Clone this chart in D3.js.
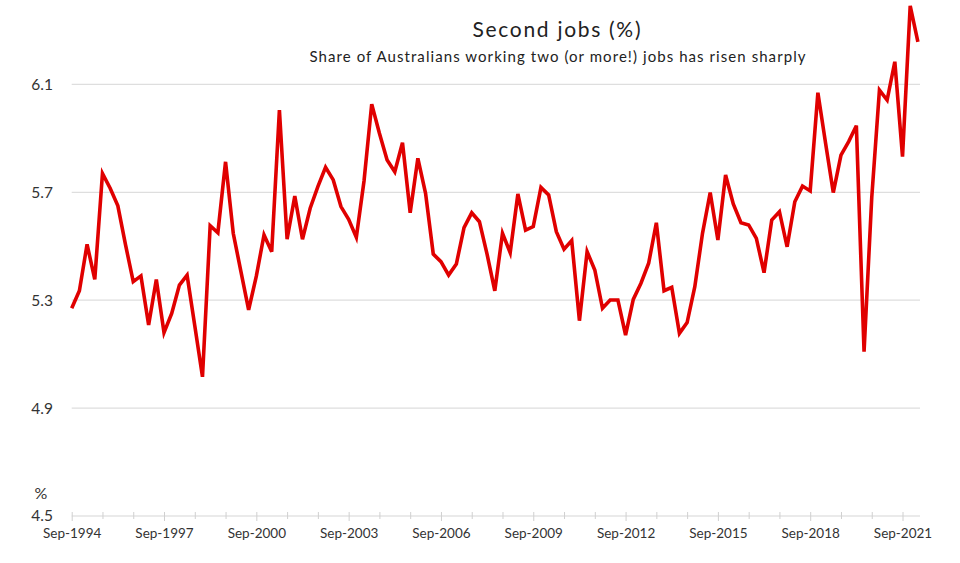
<!DOCTYPE html>
<html>
<head>
<meta charset="utf-8">
<script src="https://cdn.jsdelivr.net/npm/d3@7"></script>
<style>
  html, body { margin: 0; padding: 0; background: #fff; }
  svg { display: block; font-family: Lato, "Open Sans", sans-serif; }
</style>
</head>
<body>
<svg id="chart" width="960" height="563"></svg>
<script>
// ---- Data ----
const title = "Second jobs (%)";
const subtitle = "Share of Australians working two (or more!) jobs has risen sharply";
const quarterMonths = ["Sep", "Dec", "Mar", "Jun"];
const startYear = 1994;
const values = [
  5.27, 5.335, 5.507, 5.377, 5.770, 5.715, 5.650, 5.505, 5.369, 5.39,
  5.208, 5.377, 5.180, 5.251, 5.356, 5.393, 5.205, 5.016, 5.576, 5.550,
  5.813, 5.548, 5.406, 5.264, 5.389, 5.542, 5.480, 6.005, 5.526, 5.686,
  5.526, 5.641, 5.721, 5.793, 5.746, 5.647, 5.600, 5.533, 5.742, 6.027,
  5.919, 5.820, 5.776, 5.884, 5.624, 5.826, 5.696, 5.471, 5.443, 5.393,
  5.434, 5.569, 5.624, 5.591, 5.47, 5.335, 5.548, 5.476, 5.694, 5.560,
  5.573, 5.718, 5.690, 5.554, 5.489, 5.521, 5.224, 5.480, 5.412, 5.270,
  5.301, 5.301, 5.171, 5.303, 5.363, 5.437, 5.587, 5.335, 5.348, 5.177,
  5.217, 5.350, 5.548, 5.699, 5.523, 5.764, 5.657, 5.587, 5.579, 5.529,
  5.402, 5.597, 5.628, 5.498, 5.665, 5.723, 5.705, 6.069, 5.882, 5.699,
  5.838, 5.888, 5.947, 5.109, 5.68, 6.079, 6.042, 6.184, 5.832, 6.391,
  6.258
];
const yTicks = [4.5, 4.9, 5.3, 5.7, 6.1];
const xTickLabels = ["Sep-1994", "Sep-1997", "Sep-2000", "Sep-2003", "Sep-2006",
                     "Sep-2009", "Sep-2012", "Sep-2015", "Sep-2018", "Sep-2021"];

// categories: quarterly labels
const categories = values.map((_, i) => {
  const m = quarterMonths[i % 4];
  const yr = startYear + Math.floor((i + 2) / 4);
  return m + "-" + yr;
});
const yearTicks = categories.filter((c, i) => i % 4 === 0);

// ---- Layout ----
const svg = d3.select("#chart");
const left = 71.7, right = 917.9, axisEnd = 920;
const x = d3.scalePoint().domain(categories).range([left, right]);
const y = d3.scaleLinear().domain([4.5, 6.1]).range([516, 84.4]);

// Title
svg.append("text").attr("x", 556.5).attr("y", 37)
  .attr("text-anchor", "middle").attr("font-size", 21).attr("fill", "#222")
  .attr("textLength", 168).attr("lengthAdjust", "spacing")
  .text(title);
svg.append("text").attr("x", 557.5).attr("y", 62)
  .attr("text-anchor", "middle").attr("font-size", 15).attr("fill", "#222")
  .attr("textLength", 496).attr("lengthAdjust", "spacing")
  .text(subtitle);

// Gridlines
svg.append("g").selectAll("line").data(yTicks.slice(1)).join("line")
  .attr("x1", left).attr("x2", axisEnd)
  .attr("y1", d => y(d)).attr("y2", d => y(d))
  .attr("stroke", "#dedede").attr("stroke-width", 1.2);

// Y axis labels
const yAxis = d3.axisLeft(y).tickValues(yTicks).tickFormat(d3.format(".1f")).tickSize(0).tickPadding(0);
const yg = svg.append("g").attr("transform", "translate(53,0)").call(yAxis);
yg.select(".domain").remove();
yg.selectAll("text").attr("font-size", 15.5).attr("fill", "#333")
  .attr("font-family", "Lato, 'Open Sans', sans-serif");

svg.append("text").attr("x", 41).attr("y", 499)
  .attr("text-anchor", "middle").attr("font-size", 16).attr("fill", "#333").text("%");

// X axis
svg.append("line").attr("x1", left).attr("x2", axisEnd)
  .attr("y1", 516).attr("y2", 516).attr("stroke", "#d6d6d6").attr("stroke-width", 1.2);

const xAxis = d3.axisBottom(x).tickValues(yearTicks)
  .tickFormat(d => xTickLabels.includes(d) ? d : "")
  .tickSize(4).tickPadding(8);
const xg = svg.append("g").attr("transform", "translate(0,516)").call(xAxis);
xg.select(".domain").remove();
xg.selectAll(".tick line").attr("stroke", "#d0d0d0").attr("y1", -4)
  .attr("y2", d => xTickLabels.includes(d) ? 5 : 3);
xg.selectAll("text").attr("font-size", 13.5).attr("fill", "#333")
  .attr("font-family", "Lato, 'Open Sans', sans-serif");

// Line
const line = d3.line().x((d, i) => x(categories[i])).y(d => y(d));
svg.append("path").datum(values)
  .attr("d", line)
  .attr("fill", "none")
  .attr("stroke", "#e00000")
  .attr("stroke-width", 3.6)
  .attr("stroke-linejoin", "miter")
  .attr("stroke-miterlimit", 4);
</script>
</body>
</html>
